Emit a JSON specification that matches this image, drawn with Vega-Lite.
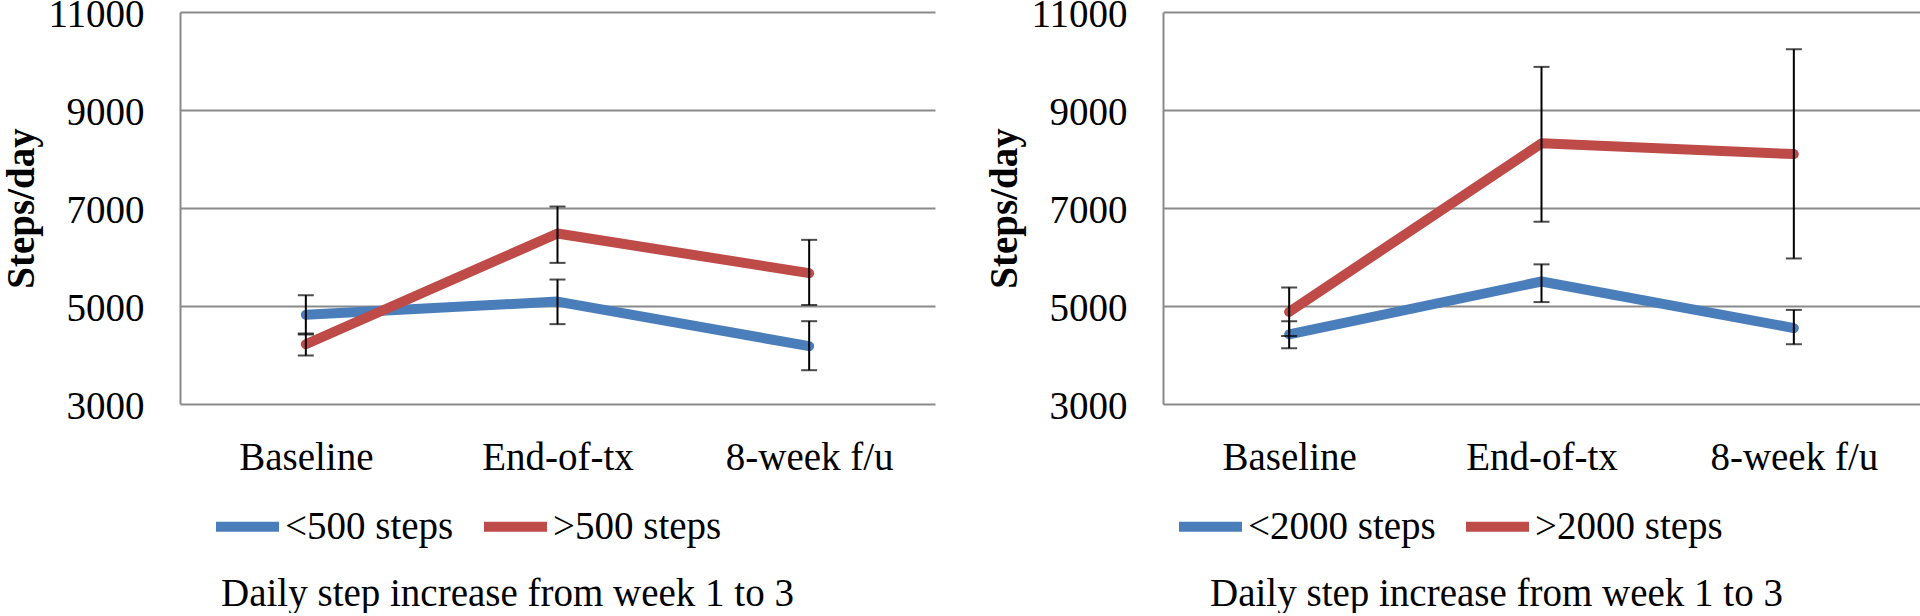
{
  "$schema": "https://vega.github.io/schema/vega-lite/v6.json",
  "padding": {"top": -5, "left": 2, "right": 0, "bottom": 0},
  "background": "white",
  "config": {
    "font": "Liberation Serif",
    "view": {"stroke": null},
    "concat": {"spacing": 50},
    "axisY": {
      "grid": true, "gridColor": "#8a8a8a", "gridWidth": 2,
      "domain": true, "domainColor": "#8a8a8a", "domainWidth": 2,
      "ticks": false, "labelFontSize": 39, "labelColor": "black", "labelPadding": 36, "labelOffset": 2,
      "titleFontSize": 39, "titleFontWeight": "bold", "titleColor": "black", "titlePadding": 6
    },
    "axisX": {
      "grid": false, "domain": false, "ticks": false, "labelAngle": 0,
      "labelFontSize": 39, "labelColor": "black", "labelPadding": 34,
      "titleFontSize": 39, "titleFontWeight": "normal", "titleColor": "black", "titlePadding": 97
    },
    "legend": {
      "orient": "none", "direction": "horizontal", "title": null,
      "labelFontSize": 39, "labelColor": "black", "labelOffset": 1,
      "symbolType": "stroke", "symbolSize": 3969, "symbolStrokeWidth": 10,
      "columnPadding": 10, "labelLimit": 400
    }
  },
  "datasets": {
    "left": [
      {"time": "Baseline", "group": "<500 steps", "mean": 4820, "lo": 4420, "hi": 5220},
      {"time": "End-of-tx", "group": "<500 steps", "mean": 5090, "lo": 4630, "hi": 5540},
      {"time": "8-week f/u", "group": "<500 steps", "mean": 4180, "lo": 3690, "hi": 4690},
      {"time": "Baseline", "group": ">500 steps", "mean": 4220, "lo": 3990, "hi": 4440},
      {"time": "End-of-tx", "group": ">500 steps", "mean": 6480, "lo": 5880, "hi": 7030},
      {"time": "8-week f/u", "group": ">500 steps", "mean": 5670, "lo": 5020, "hi": 6350}
    ],
    "right": [
      {"time": "Baseline", "group": "<2000 steps", "mean": 4420, "lo": 4140, "hi": 4690},
      {"time": "End-of-tx", "group": "<2000 steps", "mean": 5500, "lo": 5080, "hi": 5850},
      {"time": "8-week f/u", "group": "<2000 steps", "mean": 4550, "lo": 4220, "hi": 4920},
      {"time": "Baseline", "group": ">2000 steps", "mean": 4880, "lo": 4390, "hi": 5380},
      {"time": "End-of-tx", "group": ">2000 steps", "mean": 8320, "lo": 6720, "hi": 9880},
      {"time": "8-week f/u", "group": ">2000 steps", "mean": 8100, "lo": 5970, "hi": 10240}
    ]
  },
  "hconcat": [
    {
      "width": 755, "height": 392,
      "data": {"name": "left"},
      "encoding": {
        "x": {"field": "time", "type": "ordinal", "sort": ["Baseline", "End-of-tx", "8-week f/u"],
              "scale": {"type": "point", "padding": 0.5},
              "axis": {"title": "Daily step increase from week 1 to 3", "titleX": 327}}
      },
      "layer": [
        {"mark": {"type": "line", "strokeWidth": 10, "strokeCap": "round", "strokeJoin": "round"},
         "encoding": {
           "y": {"field": "mean", "type": "quantitative", "title": "Steps/day",
                 "scale": {"domain": [3000, 11000], "nice": false},
                 "axis": {"values": [3000, 5000, 7000, 9000, 11000], "format": "d"}},
           "color": {"field": "group", "type": "nominal",
                     "scale": {"domain": ["<500 steps", ">500 steps"], "range": ["#4A7EBB", "#BE4B48"]},
                     "legend": {"legendX": 31, "legendY": 478}}
         }},
        {"mark": {"type": "rule", "color": "black", "strokeWidth": 2},
         "encoding": {"y": {"field": "lo", "type": "quantitative", "title": "Steps/day"}, "y2": {"field": "hi"}}},
        {"mark": {"type": "tick", "color": "black", "thickness": 2, "size": 16},
         "encoding": {"y": {"field": "lo", "type": "quantitative", "title": "Steps/day"}}},
        {"mark": {"type": "tick", "color": "black", "thickness": 2, "size": 16},
         "encoding": {"y": {"field": "hi", "type": "quantitative", "title": "Steps/day"}}}
      ]
    },
    {
      "width": 757, "height": 392,
      "data": {"name": "right"},
      "encoding": {
        "x": {"field": "time", "type": "ordinal", "sort": ["Baseline", "End-of-tx", "8-week f/u"],
              "scale": {"type": "point", "padding": 0.5},
              "axis": {"title": "Daily step increase from week 1 to 3", "titleX": 333}}
      },
      "layer": [
        {"mark": {"type": "line", "strokeWidth": 10, "strokeCap": "round", "strokeJoin": "round"},
         "encoding": {
           "y": {"field": "mean", "type": "quantitative", "title": "Steps/day",
                 "scale": {"domain": [3000, 11000], "nice": false},
                 "axis": {"values": [3000, 5000, 7000, 9000, 11000], "format": "d"}},
           "color": {"field": "group", "type": "nominal",
                     "scale": {"domain": ["<2000 steps", ">2000 steps"], "range": ["#4A7EBB", "#BE4B48"]},
                     "legend": {"legendX": 11, "legendY": 478}}
         }},
        {"mark": {"type": "rule", "color": "black", "strokeWidth": 2},
         "encoding": {"y": {"field": "lo", "type": "quantitative", "title": "Steps/day"}, "y2": {"field": "hi"}}},
        {"mark": {"type": "tick", "color": "black", "thickness": 2, "size": 16},
         "encoding": {"y": {"field": "lo", "type": "quantitative", "title": "Steps/day"}}},
        {"mark": {"type": "tick", "color": "black", "thickness": 2, "size": 16},
         "encoding": {"y": {"field": "hi", "type": "quantitative", "title": "Steps/day"}}}
      ]
    }
  ],
  "resolve": {"scale": {"color": "independent"}, "legend": {"color": "independent"}}
}
